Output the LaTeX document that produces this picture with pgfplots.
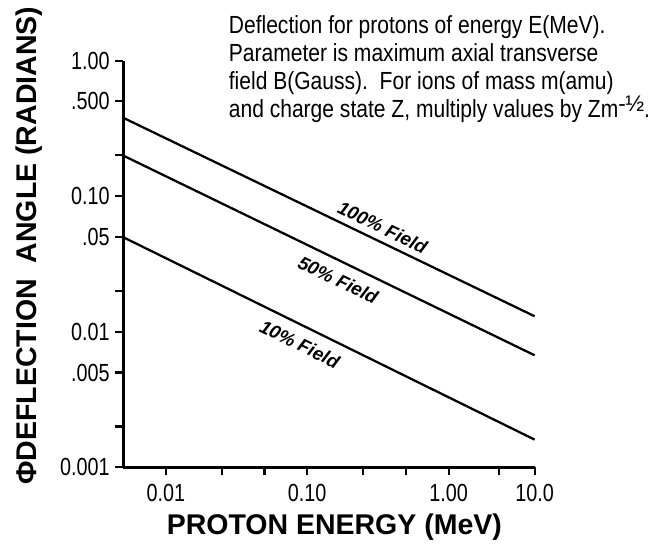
\documentclass[border=0pt]{standalone}
\usepackage{fontspec}
\setmainfont{Liberation Sans}[FakeStretch=0.85]
\newfontfamily\plainsans{Liberation Sans}
\newfontfamily\ticknarrow{Liberation Sans}[FakeStretch=0.8]
\usepackage{pgfplots}
\pgfplotsset{compat=1.18}
\begin{document}
\begin{tikzpicture}
\path[use as bounding box] (-92.6pt,-57pt) rectangle (411.4pt,351pt);
\begin{axis}[
  scale only axis, width=309pt, height=305.5pt,
  ymode=log, ymin=0.001, ymax=1,
  x coord trafo/.code={\pgfmathparse{ln(#1)*0.4342945}\let\uu\pgfmathresult
     \pgfmathparse{min(\uu,0)+0.899*min(max(\uu,0),0.398)+0.4136*max(\uu-0.398,0)}},
  xmin=0.005, xmax=10, enlargelimits=false,
  axis x line=bottom, axis y line=left,
  axis line style={-, line width=2.25pt},
  tick align=outside, major tick length=6pt,
  every tick/.style={black, line width=1.6pt},
  minor tick num=0,
  xtick={0.01,0.025,0.05,0.1,0.25,0.5,1,2.5,10},
  xticklabels={0.01,,,0.10,,,1.00,,10.0},
  ytick={0.001,0.002,0.005,0.01,0.02,0.05,0.1,0.2,0.5,1},
  yticklabels={0.001,,.005,0.01,,.05,0.10,,.500,1.00},
  tick label style={font=\ticknarrow\fontsize{18.6pt}{18.6pt}\selectfont},
  xticklabel style={anchor=north, inner sep=0pt, yshift=-6.75pt},
  yticklabel style={anchor=east, inner sep=0pt, xshift=-4pt},
  every axis x label/.style={at={(axis description cs:0.513,-0.1645)}, anchor=base},
  every axis y label/.style={at={(axis description cs:-0.21,0.545)}, rotate=90, anchor=base},
  xlabel={\plainsans\bfseries\fontsize{21.4pt}{21.4pt}\selectfont PROTON ENERGY (MeV)},
  ylabel={\plainsans\bfseries\fontsize{21.4pt}{21.4pt}\selectfont ΦDEFLECTION\ \ ANGLE (RADIANS)},
  clip=false,
]
\addplot[black, line width=1.7pt] coordinates {(0.005,0.38) (10,0.013)}
  node[pos=0.616, sloped, above=4.5pt, inner sep=0pt, font=\plainsans\bfseries\itshape\fontsize{14pt}{14pt}\selectfont] {100\% Field};
\addplot[black, line width=1.7pt] coordinates {(0.005,0.2) (10,0.0067)}
  node[pos=0.542, sloped, below=7.5pt, inner sep=0pt, font=\plainsans\bfseries\itshape\fontsize{14pt}{14pt}\selectfont] {50\% Field};
\addplot[black, line width=1.7pt] coordinates {(0.005,0.05) (10,0.0016)}
  node[pos=0.449, sloped, below=7.5pt, inner sep=0pt, font=\plainsans\bfseries\itshape\fontsize{14pt}{14pt}\selectfont] {10\% Field};
\end{axis}
\begin{scope}[every node/.style={anchor=base west, inner sep=0pt, font=\fontsize{18.6pt}{21pt}\selectfont}]
\node at (79.1pt,326pt) {Deflection for protons of energy E(MeV).};
\node at (79.1pt,305pt) {Parameter is maximum axial transverse};
\node at (79.1pt,283.8pt) {field B(Gauss).\ \ For ions of mass m(amu)};
\node at (79.1pt,262.6pt) {and charge state Z, multiply values by Zm\raisebox{5pt}{\plainsans\fontsize{17pt}{17pt}\selectfont -\kern-0.5pt½}.};
\end{scope}
\end{tikzpicture}
\end{document}
